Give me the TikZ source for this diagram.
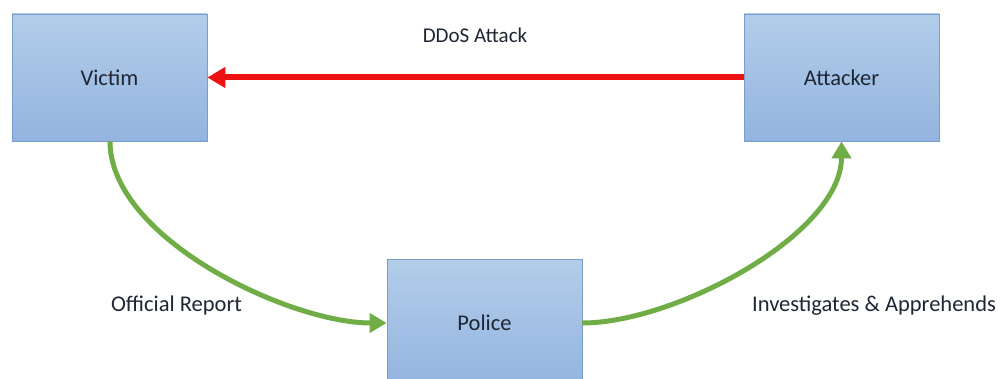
\documentclass[tikz,border=0pt]{standalone}
\usepackage{fontspec}
\setmainfont{Carlito}
\usetikzlibrary{arrows.meta}
\definecolor{boxtop}{HTML}{B3CDEA}
\definecolor{boxbot}{HTML}{93B4DF}
\definecolor{boxline}{HTML}{7A9CC8}
\definecolor{arrgreen}{HTML}{70AD47}
\definecolor{arrred}{HTML}{EE1111}
\definecolor{txt}{HTML}{1E2633}
\tikzset{
  actor/.style={draw=boxline, line width=0.8pt, top color=boxtop, bottom color=boxbot,
    minimum width=195pt, minimum height=127pt, inner sep=0pt,
    font=\fontsize{22.5pt}{26pt}\selectfont, text=txt},
  lbl/.style={font=\fontsize{22.5pt}{26pt}\selectfont, text=txt, inner sep=0pt},
  flow/.style={draw=arrgreen, line width=5pt, -{Triangle[length=17pt,width=19pt]}},
  attack/.style={draw=arrred, line width=6pt, -{Triangle[length=18pt,width=20pt]}}
}
\begin{document}
\begin{tikzpicture}[x=1pt,y=-1pt]
\useasboundingbox (0,0) rectangle (1000,379);
\begin{scope}
\clip (0,0) rectangle (1000,379);
\node[actor] (victim) at (109.5,77.5) {Victim};
\node[actor] (attacker) at (841.5,77.5) {Attacker};
\node[actor] (police) at (484.5,323) {Police};
\end{scope}
\draw[attack] (attacker.west) -- (victim.east);
\draw[flow] ([xshift=0.5pt]victim.south) to[out=-90,in=180,looseness=0.75] (police.west);
\draw[flow] (police.east) to[out=0,in=-90,looseness=0.75] (attacker.south);
\node[lbl, font=\fontsize{21pt}{24pt}\selectfont] (ddos) at (475,35) {DDoS Attack};
\node[lbl] (report) at (176.5,306) {Official Report};
\node[lbl] (invest) at (874,306) {Investigates \& Apprehends};
\end{tikzpicture}
\end{document}
